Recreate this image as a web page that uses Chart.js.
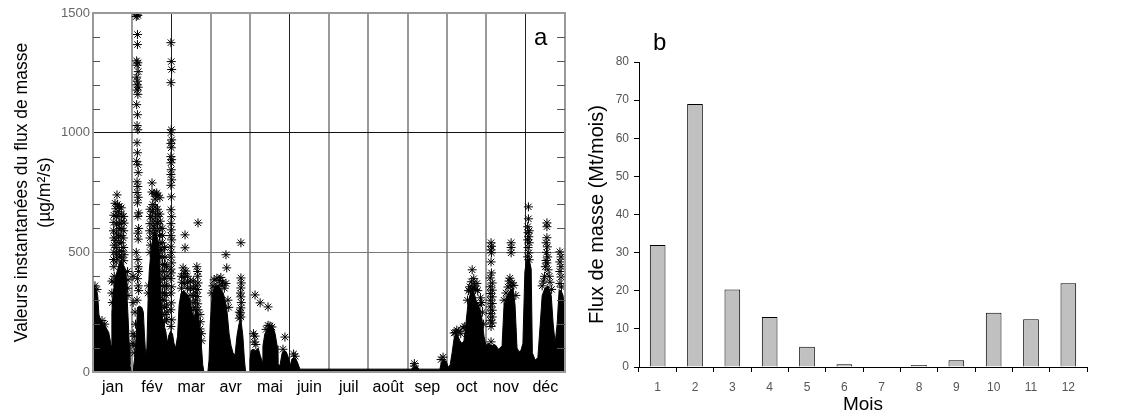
<!DOCTYPE html>
<html>
<head>
<meta charset="utf-8">
<script src="https://cdn.jsdelivr.net/npm/chart.js@4.4.0/dist/chart.umd.min.js"></script>
<style>
  body { margin: 0; background: #fff; }
  #wrap { position: relative; width: 1125px; height: 414px; }
  canvas { position: absolute; top: 0; }
</style>
</head>
<body>
<div id="wrap">
  <canvas id="fluxA" width="580" height="414" style="left:0"></canvas>
  <canvas id="fluxB" width="545" height="414" style="left:580px"></canvas>
</div>
<script>
// panel a : x in months (0 = 1 jan, 12 = 31 dec), y in µg/m²/s
const MONTH_NAMES = ["jan", "fév", "mar", "avr", "mai", "juin", "juil", "août", "sep", "oct", "nov", "déc"];

// upper edge of the solid black mass of points
const denseEdge = [
  [0.00, 360], [0.03, 355], [0.08, 345], [0.12, 320], [0.15, 240], [0.20, 215], [0.25, 205], [0.30, 195],
  [0.35, 180], [0.40, 165], [0.44, 130], [0.46, 110], [0.48, 250], [0.51, 330], [0.54, 360], [0.58, 400],
  [0.63, 430], [0.68, 460], [0.72, 470], [0.76, 450], [0.80, 440], [0.84, 420], [0.87, 300], [0.90, 200],
  [0.92, 120], [0.94, 30], [0.97, 0], [1.02, 0], [1.03, 20], [1.06, 60], [1.10, 150], [1.13, 270],
  [1.18, 275], [1.24, 270], [1.28, 250], [1.31, 150], [1.34, 70], [1.37, 100], [1.40, 300], [1.43, 420],
  [1.47, 500], [1.52, 560], [1.57, 590], [1.62, 570], [1.67, 540], [1.70, 450], [1.73, 300], [1.76, 230],
  [1.80, 200], [1.85, 170], [1.89, 120], [1.92, 150], [1.97, 170], [2.02, 160], [2.06, 120], [2.10, 100],
  [2.15, 150], [2.19, 280], [2.24, 330], [2.30, 340], [2.36, 330], [2.42, 320], [2.47, 300], [2.52, 250],
  [2.57, 230], [2.62, 260], [2.67, 250], [2.72, 180], [2.76, 100], [2.79, 30], [2.82, 0], [2.92, 0],
  [2.95, 50], [2.98, 200], [3.03, 320], [3.08, 350], [3.15, 360], [3.23, 350], [3.31, 330], [3.36, 300],
  [3.41, 250], [3.46, 160], [3.51, 110], [3.56, 80], [3.61, 70], [3.66, 150], [3.71, 200], [3.76, 220],
  [3.81, 150], [3.85, 50], [3.88, 0], [3.97, 0], [3.99, 50], [4.02, 90], [4.07, 95], [4.14, 90],
  [4.20, 100], [4.25, 70], [4.30, 45], [4.32, 110], [4.37, 160], [4.45, 185], [4.50, 190], [4.58, 185],
  [4.63, 160], [4.68, 110], [4.70, 35], [4.75, 25], [4.81, 80], [4.86, 90], [4.91, 85], [4.96, 65],
  [5.01, 25], [5.06, 55], [5.11, 60], [5.16, 55], [5.21, 35], [5.26, 12], [8.11, 12], [8.16, 22],
  [8.24, 22], [8.29, 12], [8.82, 12], [8.85, 35], [8.90, 50], [8.98, 45], [9.03, 20], [9.08, 30],
  [9.13, 80], [9.18, 140], [9.23, 160], [9.28, 150], [9.33, 130], [9.38, 120], [9.43, 130], [9.48, 200],
  [9.53, 280], [9.58, 320], [9.64, 340], [9.69, 330], [9.74, 300], [9.79, 280], [9.84, 260], [9.89, 220],
  [9.94, 150], [9.99, 110], [10.04, 120], [10.09, 115], [10.14, 110], [10.20, 115], [10.25, 110], [10.30, 95],
  [10.35, 100], [10.40, 110], [10.45, 280], [10.53, 320], [10.60, 340], [10.68, 350], [10.73, 280], [10.78, 100],
  [10.83, 85], [10.88, 90], [10.93, 120], [10.98, 420], [11.03, 470], [11.09, 470], [11.14, 430], [11.17, 80],
  [11.24, 50], [11.31, 60], [11.37, 200], [11.42, 320], [11.49, 350], [11.57, 360], [11.65, 320], [11.70, 200],
  [11.75, 120], [11.80, 200], [11.85, 340], [11.90, 340], [11.95, 320], [12.00, 250]
];

// single asterisks standing out of the mass
const starsJan = [
  [0.05, 360], [0.10, 345], [0.23, 215], [0.30, 200],
  [0.61, 740], [0.56, 705], [0.62, 700], [0.67, 692], [0.58, 682], [0.72, 686], [0.64, 670],
  [0.53, 655], [0.53, 625], [0.52, 590], [0.53, 560], [0.54, 530], [0.53, 500], [0.52, 470], [0.53, 440], [0.54, 400], [0.53, 375],
  [0.59, 650], [0.60, 615], [0.59, 580], [0.58, 550], [0.59, 520], [0.60, 490], [0.59, 460],
  [0.66, 650], [0.67, 620], [0.66, 598], [0.65, 565], [0.66, 540], [0.67, 505], [0.66, 480],
  [0.72, 660], [0.73, 630], [0.72, 600], [0.71, 570], [0.72, 540], [0.73, 505], [0.72, 480],
  [0.78, 650], [0.79, 622], [0.78, 590], [0.77, 560], [0.78, 520], [0.79, 490], [0.78, 465],
  [0.48, 380], [0.48, 330], [0.49, 290],
  [0.88, 420], [0.89, 385], [0.88, 350], [0.89, 320]
];
const starsFev = [
  [1.12, 1495], [1.14, 1490], [1.10, 1485], [1.13, 1410], [1.13, 1368], [1.11, 1300], [1.14, 1292], [1.12, 1282],
  [1.15, 1255], [1.11, 1232], [1.13, 1215], [1.12, 1200], [1.15, 1190], [1.12, 1178], [1.14, 1160], [1.11, 1117],
  [1.13, 1075], [1.12, 1030], [1.14, 1012], [1.12, 958], [1.13, 916], [1.11, 880], [1.14, 866], [1.15, 833],
  [1.12, 795], [1.14, 775], [1.12, 750], [1.15, 730], [1.13, 707], [1.16, 665], [1.14, 650], [1.16, 600],
  [1.14, 580], [1.15, 555], [1.10, 500], [1.14, 470], [1.15, 440], [1.16, 420], [1.13, 390], [1.15, 360],
  [1.16, 340], [1.12, 300], [1.07, 250], [1.08, 200], [1.06, 150], [1.04, 110], [1.05, 80],
  [1.02, 400], [1.02, 290], [1.02, 160], [1.02, 120],
  [1.50, 790], [1.50, 752], [1.55, 745], [1.60, 742], [1.65, 736], [1.70, 728], [1.58, 722], [1.62, 748],
  [1.45, 680], [1.46, 650], [1.45, 620], [1.44, 590], [1.45, 560], [1.46, 530], [1.45, 500],
  [1.52, 700], [1.51, 670], [1.52, 640], [1.53, 610], [1.52, 580],
  [1.58, 690], [1.59, 660], [1.58, 630], [1.57, 600],
  [1.64, 680], [1.65, 650], [1.64, 620], [1.63, 590],
  [1.70, 660], [1.71, 630], [1.70, 600], [1.69, 570], [1.70, 540], [1.71, 510], [1.70, 480],
  [1.76, 600], [1.77, 570], [1.76, 540], [1.75, 510], [1.76, 480], [1.77, 450], [1.76, 420], [1.75, 390],
  [1.76, 360], [1.77, 330], [1.76, 300], [1.75, 270], [1.76, 240],
  [1.82, 520], [1.83, 480], [1.82, 450], [1.81, 420], [1.82, 390], [1.83, 360], [1.82, 330], [1.81, 300],
  [1.82, 270], [1.83, 240], [1.82, 210],
  [1.87, 440], [1.88, 400], [1.87, 360], [1.86, 320], [1.87, 280], [1.88, 250], [1.87, 220],
  [1.40, 330], [1.41, 360],
  [1.98, 1376], [1.99, 1297], [2.00, 1264], [1.98, 1209], [1.99, 1012], [1.98, 1000], [2.00, 970], [1.98, 955],
  [1.99, 937], [1.98, 900], [2.00, 887], [1.98, 874], [1.99, 845], [1.98, 825], [2.00, 803], [1.98, 780],
  [1.99, 732], [1.98, 678], [2.00, 649], [1.98, 620], [1.99, 594], [1.98, 570], [2.00, 552], [1.98, 523],
  [1.99, 500], [1.98, 480], [2.00, 456], [1.98, 430], [1.99, 414], [1.98, 390], [2.00, 356], [1.98, 330],
  [1.99, 289], [1.98, 260], [2.00, 218], [1.98, 190]
];
const starsMar = [
  [2.34, 573], [2.34, 519], [2.67, 623],
  [2.29, 435], [2.36, 422], [2.32, 412], [2.64, 440], [2.66, 420],
  [2.25, 400], [2.26, 375], [2.25, 350], [2.31, 395], [2.32, 370],
  [2.40, 400], [2.41, 375], [2.40, 350], [2.47, 380], [2.48, 350], [2.47, 320],
  [2.55, 380], [2.56, 350], [2.55, 320], [2.54, 290], [2.55, 260],
  [2.61, 360], [2.62, 330], [2.61, 300], [2.60, 270],
  [2.66, 400], [2.67, 372], [2.66, 345], [2.65, 315], [2.66, 285], [2.67, 260],
  [2.72, 240], [2.73, 210], [2.72, 180], [2.76, 160], [2.76, 130]
];
const starsAvr = [
  [3.38, 490], [3.40, 435], [3.76, 540],
  [3.08, 385], [3.15, 392], [3.22, 382], [3.30, 376], [3.38, 370], [3.28, 362], [3.18, 358], [3.12, 352],
  [3.25, 395], [3.34, 350], [3.05, 360], [3.02, 330], [3.43, 300], [3.45, 270],
  [3.76, 393], [3.77, 372], [3.76, 351], [3.75, 330], [3.76, 314], [3.77, 290], [3.76, 268], [3.75, 247], [3.76, 230],
  [3.72, 250], [3.72, 225]
];
const starsMai = [
  [4.12, 322], [4.25, 289], [4.45, 272], [4.88, 146],
  [4.08, 160], [4.12, 150], [4.10, 125], [4.14, 115],
  [4.45, 195], [4.50, 192], [4.55, 188], [4.40, 178],
  [4.83, 95], [5.10, 75], [5.14, 66]
];
const starsSep = [[8.17, 25], [8.17, 35], [8.85, 52], [8.90, 62]];
const starsOct = [
  [9.18, 163], [9.25, 175], [9.41, 184], [9.30, 170], [9.22, 165], [9.35, 160], [9.45, 190],
  [9.64, 427], [9.62, 377], [9.58, 356], [9.66, 350], [9.72, 345], [9.60, 335], [9.70, 360], [9.55, 340],
  [9.78, 340], [9.85, 310], [9.88, 290], [9.84, 280], [9.90, 250], [9.76, 370], [9.68, 390], [9.52, 300], [9.93, 200]
];
const starsNov = [
  [10.12, 540], [10.13, 525], [10.12, 510], [10.13, 498], [10.12, 460], [10.13, 414], [10.10, 393], [10.15, 372],
  [10.10, 356], [10.15, 342], [10.10, 328], [10.15, 314], [10.10, 300], [10.15, 286], [10.10, 272], [10.15, 258],
  [10.10, 244], [10.15, 230], [10.10, 216], [10.15, 205], [10.12, 190], [10.12, 126],
  [10.63, 540], [10.63, 520], [10.63, 498],
  [10.58, 380], [10.65, 372], [10.62, 360], [10.55, 355], [10.70, 362], [10.50, 330], [10.75, 320], [10.45, 300], [10.60, 392]
];
const starsDec = [
  [11.07, 690], [11.07, 640], [11.05, 607], [11.09, 590], [11.06, 582], [11.08, 565], [11.05, 552], [11.09, 540],
  [11.06, 520], [11.08, 498], [11.05, 481], [11.09, 469],
  [11.54, 623], [11.54, 607], [11.54, 561], [11.52, 540], [11.55, 523], [11.53, 500], [11.56, 481], [11.52, 466],
  [11.54, 456], [11.50, 440], [11.57, 427], [11.48, 400], [11.60, 400], [11.45, 380], [11.62, 375], [11.42, 360], [11.66, 345],
  [11.87, 502], [11.90, 481], [11.87, 460], [11.90, 440], [11.87, 420], [11.90, 397], [11.87, 370], [11.91, 355]
];

// panel b : monthly mass flux, Mt/mois
const MOIS = ["1", "2", "3", "4", "5", "6", "7", "8", "9", "10", "11", "12"];
const FLUX_MENSUEL = [32, 69, 20.3, 13.1, 5.3, 0.7, 0, 0.5, 1.8, 14.2, 12.5, 22];

const FONT = '"Liberation Sans", Arial, Helvetica, sans-serif';
Chart.defaults.font.family = FONT;

const toXY = (pairs) => pairs.map(([x, y]) => ({ x, y }));
const darkMonths = [2, 5, 11];

// frame, inward minor ticks and panel letter
const frameA = {
  id: "frameA",
  afterDraw(chart) {
    const { ctx, chartArea: a, scales: { y } } = chart;
    ctx.save();
    ctx.strokeStyle = "#999";
    ctx.lineWidth = 2;
    ctx.strokeRect(a.left, a.top, a.right - a.left, a.bottom - a.top);
    ctx.strokeStyle = "#555";
    ctx.lineWidth = 1;
    y.ticks.forEach((t) => {
      if (t.value % 500 === 0) return;
      const py = Math.round(y.getPixelForValue(t.value)) + 0.5;
      ctx.beginPath();
      ctx.moveTo(a.left, py);
      ctx.lineTo(a.left + 7, py);
      ctx.moveTo(a.right - 8, py);
      ctx.lineTo(a.right, py);
      ctx.stroke();
    });
    ctx.fillStyle = "#000";
    ctx.font = "24px " + FONT;
    ctx.fillText("a", a.right - 31, a.top + 32);
    ctx.restore();
  }
};

const letterB = {
  id: "letterB",
  afterDraw(chart) {
    const { ctx } = chart;
    ctx.save();
    ctx.fillStyle = "#000";
    ctx.font = "24px " + FONT;
    ctx.fillText("b", 73, 50);
    ctx.restore();
  }
};

new Chart(document.getElementById("fluxA"), {
  type: "scatter",
  data: {
    datasets: [
      {
        type: "line",
        data: toXY(denseEdge),
        fill: "origin",
        backgroundColor: "#000",
        borderColor: "#000",
        borderWidth: 1,
        pointRadius: 0,
        tension: 0,
        order: 2
      },
      {
        data: toXY([...starsJan, ...starsFev, ...starsMar, ...starsAvr, ...starsMai,
                     ...starsSep, ...starsOct, ...starsNov, ...starsDec]),
        pointStyle: "star",
        pointRadius: 4.5,
        borderColor: "#000",
        backgroundColor: "#000",
        borderWidth: 1,
        order: 1
      }
    ]
  },
  options: {
    responsive: false,
    animation: false,
    layout: { padding: { top: 13, right: 15, left: 0, bottom: 0 } },
    plugins: { legend: { display: false }, tooltip: { enabled: false } },
    scales: {
      x: {
        type: "linear",
        min: 0,
        max: 12,
        afterFit(s) { s.height = 42; },
        border: { display: false },
        grid: {
          drawTicks: false,
          color: (c) => {
            const v = c.tick && c.tick.value;
            if (!Number.isInteger(v) || v === 0 || v === 12) return "rgba(0,0,0,0)";
            return darkMonths.includes(v) ? "#222" : "#999";
          },
          lineWidth: (c) => (c.tick && darkMonths.includes(c.tick.value) ? 1 : 2)
        },
        ticks: {
          stepSize: 0.5,
          autoSkip: false,
          maxRotation: 0,
          color: "#000",
          padding: 6,
          font: { size: 16 },
          callback: (v) => (Number.isInteger(v) ? "" : MONTH_NAMES[Math.floor(v)])
        }
      },
      y: {
        min: 0,
        max: 1500,
        afterFit(s) { s.width = 93; },
        border: { display: false },
        grid: {
          drawTicks: false,
          color: (c) => {
            const v = c.tick && c.tick.value;
            if (v === 1000) return "#111";
            if (v === 500) return "#777";
            return "rgba(0,0,0,0)";
          }
        },
        ticks: {
          stepSize: 100,
          color: "#666",
          padding: 3,
          font: { size: 13 },
          callback: (v) => (v % 500 === 0 ? v : "")
        },
        title: {
          display: true,
          text: ["Valeurs instantanées du flux de masse", "(µg/m²/s)"],
          color: "#000",
          font: { size: 17.5, lineHeight: 1.3 },
          padding: { top: 11, bottom: 0 }
        }
      }
    }
  },
  plugins: [frameA]
});

new Chart(document.getElementById("fluxB"), {
  type: "bar",
  data: {
    labels: MOIS,
    datasets: [{
      data: FLUX_MENSUEL,
      backgroundColor: "#c0c0c0",
      borderColor: "#000",
      borderWidth: 1,
      barPercentage: 0.42,
      categoryPercentage: 1
    }]
  },
  options: {
    responsive: false,
    animation: false,
    layout: { padding: { top: 62, right: 38, left: 0, bottom: 0 } },
    plugins: { legend: { display: false }, tooltip: { enabled: false } },
    scales: {
      x: {
        afterFit(s) { s.height = 47; },
        border: { color: "#000" },
        grid: { offset: true, drawOnChartArea: false, tickLength: 5, color: "#000" },
        ticks: { color: "#555", padding: 8, font: { size: 12 } },
        title: {
          display: true,
          text: "Mois",
          color: "#000",
          font: { size: 19, lineHeight: 1 },
          padding: { top: 0, bottom: 0 }
        }
      },
      y: {
        min: 0,
        max: 80,
        afterFit(s) { s.width = 59; },
        border: { color: "#000" },
        grid: { drawOnChartArea: false, tickLength: 5, color: "#000" },
        ticks: { stepSize: 10, color: "#555", padding: 5, font: { size: 12 } },
        title: {
          display: true,
          text: "Flux de masse (Mt/mois)",
          color: "#000",
          font: { size: 20, lineHeight: 1.2 },
          padding: { top: 5, bottom: 0 }
        }
      }
    }
  },
  plugins: [letterB]
});
</script>
</body>
</html>
